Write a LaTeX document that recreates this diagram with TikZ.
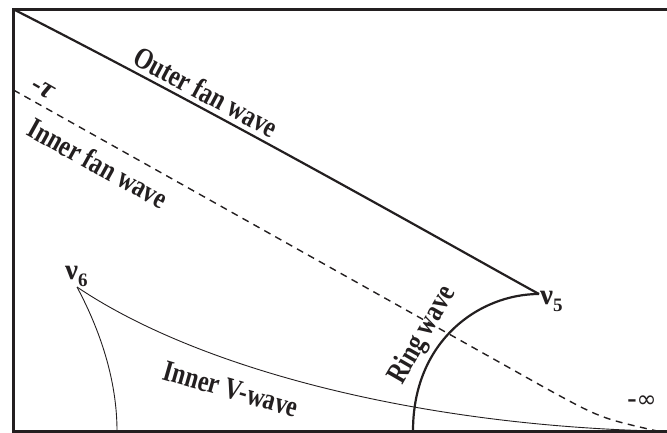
\documentclass[tikz,border=0pt]{standalone}
\usepackage{fontspec}
\setmainfont{Liberation Serif}
\newfontfamily\symbfont{DejaVu Sans}
\usetikzlibrary{positioning}
\definecolor{inkgray}{HTML}{231F20}
\tikzset{
 frameline/.style={draw=inkgray,line width=2.6pt},
 fanline/.style={draw=inkgray,line width=2.2pt},
 dashline/.style={draw=inkgray,line width=1.4pt,dash pattern=on 7pt off 5.5pt},
 thinline/.style={draw=inkgray,line width=0.9pt},
 wavelabel/.style={font=\bfseries\fontsize{30}{30}\selectfont,text=inkgray,inner sep=0pt},
 pointlabel/.style={font=\bfseries\fontsize{29}{29}\selectfont,text=inkgray,inner sep=0pt},
 endlabel/.style={font=\bfseries\fontsize{28}{28}\selectfont,text=inkgray,inner sep=0pt}
}
\newcommand{\sublab}[1]{\raisebox{-7pt}{\fontsize{19}{19}\selectfont #1}}
\newcommand{\narrow}[1]{\scalebox{0.8}[1]{#1}}

\begin{document}
\begin{tikzpicture}[x=1pt,y=-1pt]
 \useasboundingbox (0,0) rectangle (667,433);
 % frame, open on the right
 \coordinate (tl) at (13.5,9.3);
 \coordinate (bl) at (13.5,431.5);
 \draw[frameline] (667,9.3) -- (tl) -- (bl) -- (667,431.5);
 % end points of the waves
 \coordinate (v5) at (539,294);
 \coordinate (v6) at (77,287);
 \coordinate (tau) at (13.5,90);
 \coordinate (ringfoot) at (413,431);
 \coordinate (vfoot) at (117,431);
 \coordinate (vtail) at (655,431);
 \coordinate (dashend) at (657,431);
 % waves
 \draw[fanline] (tl) .. controls (250,130) and (480,262) .. (v5);
 \draw[fanline] (ringfoot) .. controls (413,340) and (480,294) .. (v5);
 \draw[dashline] (tau) -- (540,385) .. controls (600,418) .. (dashend);
 \draw[thinline] (v6) .. controls (100,330) and (117,380) .. (vfoot);
 \draw[thinline] (v6) .. controls (200,370) and (420,425) .. (vtail);
 % labels
 \node[wavelabel,rotate=-28] (outerlab) at (206,92) {\narrow{Outer fan wave}};
 \node[wavelabel,rotate=-29] (innerlab) at (98,163) {\narrow{Inner fan wave}};
 \node[wavelabel,rotate=60] (ringlab) at (423,335) {\narrow{Ring wave}};
 \node[wavelabel,rotate=-16] (vlab) at (231,389) {\narrow{Inner V-wave}};
 \node[endlabel,rotate=-30] (taulab) at (43,89) {-{\itshape\fontsize{30}{30}\selectfont τ}};
 \node[endlabel] (inflab) at (642,402) {-{\symbfont\mdseries\fontsize{24}{24}\selectfont ∞}};
 \node[pointlabel,anchor=base west] (nu6) at (65,279) {ν\sublab{6}};
 \node[pointlabel,anchor=base west] (nu5) at (540,304) {ν\sublab{5}};
\end{tikzpicture}
\end{document}
